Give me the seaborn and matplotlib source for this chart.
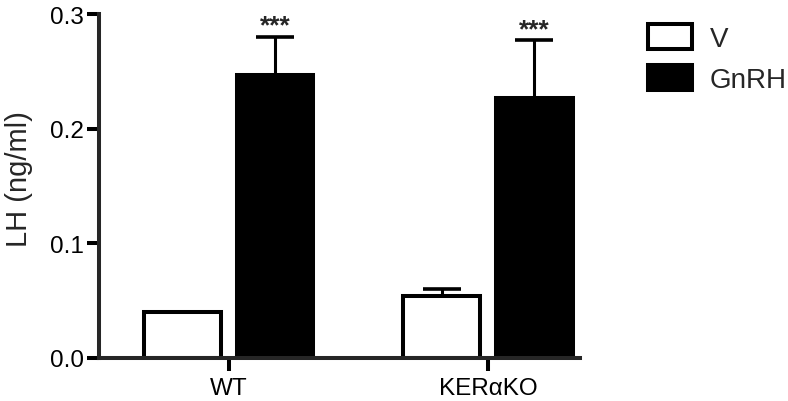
import pandas as pd
import matplotlib.pyplot as plt
import seaborn as sns
from matplotlib.patches import Patch

# 数据
genotypes = ["WT", "KERαKO"]
treatments = ["V", "GnRH"]
lh_v = [0.040, 0.054]
lh_gnrh = [0.247, 0.227]
sem_v = [0.0, 0.006]
sem_gnrh = [0.033, 0.050]
stars = ["", "***"]  # 标注：V 无，GnRH 有

df = pd.DataFrame({
    "genotype": genotypes * 2,
    "treatment": [treatments[0]] * 2 + [treatments[1]] * 2,
    "lh": lh_v + lh_gnrh,
    "sem": sem_v + sem_gnrh,
})

sns.set_style("ticks")
plt.rcParams["font.family"] = ["Liberation Sans", "DejaVu Sans"]

lw = 2.9
fig = plt.figure(figsize=(7.88, 4.02), dpi=100)
ax = fig.add_axes([99 / 788, 1 - 359 / 402, 481 / 788, 344 / 402])

sns.barplot(
    data=df, x="genotype", y="lh", hue="treatment",
    hue_order=treatments, order=genotypes,
    palette={"V": "white", "GnRH": "black"},
    edgecolor="black", linewidth=lw,
    width=0.715, gap=0.17, errorbar=None, legend=False, ax=ax,
)

# 误差线（仅上方）和显著性标注
for container, tr, mark in zip(ax.containers, treatments, stars):
    sub = df[df["treatment"] == tr].set_index("genotype").loc[genotypes]
    for bar, (_, row) in zip(container, sub.iterrows()):
        xc = bar.get_x() + bar.get_width() / 2
        if row["sem"] > 0:
            ax.errorbar(xc, row["lh"], yerr=[[0], [row["sem"]]], fmt="none",
                        ecolor="black", elinewidth=2.2, capsize=14,
                        capthick=2.6, zorder=1)
        if mark:
            ax.annotate(mark, xy=(xc, row["lh"] + row["sem"]),
                        xytext=(0, 3), textcoords="offset points",
                        ha="center", va="baseline", fontsize=19,
                        fontweight="bold", annotation_clip=False)

ax.set_xlim(-0.5, 1.355)
ax.set_ylim(0, 0.3)
ax.set_yticks([0.0, 0.1, 0.2, 0.3])
ax.set_yticklabels(["0.0", "0.1", "0.2", "0.3"])
ax.set_xlabel("")
ax.set_ylabel("LH (ng/ml)", fontsize=21)
ax.yaxis.set_label_coords(-0.137, 0.523)

sns.despine(ax=ax)
for side in ["left", "bottom"]:
    ax.spines[side].set_linewidth(lw)
ax.tick_params(axis="both", direction="out", length=9, width=lw,
               labelsize=17.5, colors="black")
ax.tick_params(axis="y", pad=2)
ax.tick_params(axis="x", pad=5)

handles = [Patch(facecolor="white", edgecolor="black", linewidth=lw),
           Patch(facecolor="black", edgecolor="black", linewidth=lw)]
fig.legend(handles, treatments, loc="upper left",
           bbox_to_anchor=(648 / 788, 1 - 25 / 402), frameon=False,
           fontsize=20, borderpad=0, borderaxespad=0,
           handlelength=1.58, handleheight=1.0, handletextpad=0.65,
           labelspacing=0.47)

plt.savefig("out.png", dpi=100)
plt.close()
